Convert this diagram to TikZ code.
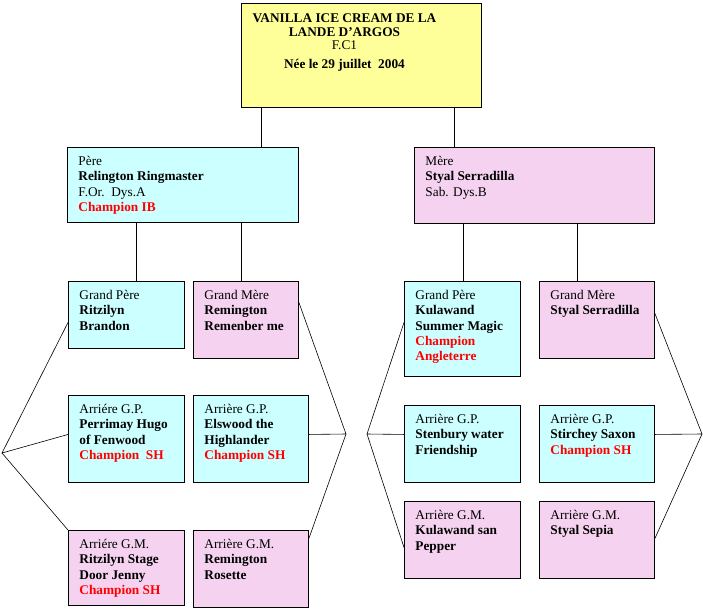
\documentclass[tikz,border=0pt]{standalone}
\usepackage{fontspec}
\setmainfont{Liberation Serif}
\definecolor{titlefill}{RGB}{255,255,153}
\definecolor{malefill}{RGB}{204,255,255}
\definecolor{femalefill}{RGB}{245,211,240}
\definecolor{champred}{RGB}{255,0,0}
\newcommand{\cellbox}[3]{\begin{minipage}[t][#2pt][t]{#1pt}\raggedright\leftskip=11pt\vspace*{7.3pt}\strut#3\end{minipage}}
\newcommand{\champion}[1]{\textcolor{champred}{\textbf{#1}}}

\begin{document}
\begin{tikzpicture}[
            x=1pt, y=-1pt,
            pedbox/.style={draw, line width=0.9pt, anchor=north west, inner sep=0pt, font=\fontsize{13.3}{15.3}\selectfont},
            titlenode/.style={pedbox, fill=titlefill},
            malenode/.style={pedbox, fill=malefill},
            femalenode/.style={pedbox, fill=femalefill},
            link/.style={line width=0.6pt}
        ]
            \useasboundingbox (0,0) rectangle (703,610);

            \node[titlenode] (vanilla) at (241,3) {\hspace*{10pt}\begin{minipage}[t][104pt][t]{186pt}\centering\vspace*{8pt}\strut\textbf{VANILLA ICE CREAM DE LA}\\[-1pt]\textbf{LANDE D'ARGOS}\\[-2pt]F.C1\\[3.7pt]\textbf{Née le 29 juillet~ 2004}\end{minipage}\hspace*{44pt}};

            \node[malenode] (pere) at (67,147) {\cellbox{231}{75}{Père\\\textbf{Relington Ringmaster}\\F.Or.~~Dys.A\\\champion{Champion IB}}};
            \node[femalenode] (mere) at (414,147) {\cellbox{240}{76}{Mère\\\textbf{Styal Serradilla}\\Sab. Dys.B}};

            \node[malenode] (gpp) at (68,281) {\cellbox{116}{67}{Grand Père\\\textbf{Ritzilyn}\\\textbf{Brandon}}};
            \node[femalenode] (gmp) at (193,281) {\cellbox{105}{77}{Grand Mère\\\textbf{Remington}\\\textbf{Remenber me}}};
            \node[malenode] (gpm) at (404,281) {\cellbox{116}{95}{Grand Père\\\textbf{Kulawand}\\\textbf{Summer Magic}\\\champion{Champion}\\\champion{Angleterre}}};
            \node[femalenode] (gmm) at (539,281) {\cellbox{115}{77}{Grand Mère\\\textbf{Styal Serradilla}}};

            \node[malenode] (agp1) at (68,395) {\cellbox{116}{87}{Arriére G.P.\\\textbf{Perrimay Hugo}\\\textbf{of Fenwood}\\\champion{Champion~ SH}}};
            \node[malenode] (agp2) at (193,395) {\cellbox{115}{87}{Arrière G.P.\\\textbf{Elswood the}\\\textbf{Highlander}\\\champion{Champion SH}}};
            \node[malenode] (agp3) at (404,405) {\cellbox{116}{77}{Arrière G.P.\\\textbf{Stenbury water}\\\textbf{Friendship}}};
            \node[malenode] (agp4) at (539,405) {\cellbox{115}{77}{Arrière G.P.\\\textbf{Stirchey Saxon}\\\champion{Champion SH}}};

            \node[femalenode] (agm1) at (68,530) {\cellbox{116}{75}{Arriére G.M.\\\textbf{Ritzilyn Stage}\\\textbf{Door Jenny}\\\champion{Champion SH}}};
            \node[femalenode] (agm2) at (193,530) {\cellbox{115}{77}{Arrière G.M.\\\textbf{Remington}\\\textbf{Rosette}}};
            \node[femalenode] (agm3) at (404,501) {\cellbox{116}{77}{Arrière G.M.\\\textbf{Kulawand san}\\\textbf{Pepper}}};
            \node[femalenode] (agm4) at (539,501) {\cellbox{115}{77}{Arrière G.M.\\\textbf{Styal Sepia}}};

            \coordinate (lv) at (2,453);
            \coordinate (lr) at (346,434);
            \coordinate (rl) at (367,434);
            \coordinate (rr) at (702,434);

            \draw[link] ([xshift=20pt]vanilla.south west) -- ([xshift=20pt]vanilla.south west |- pere.north);
            \draw[link] ([xshift=-28pt]vanilla.south east) -- ([xshift=-28pt]vanilla.south east |- mere.north);
            \draw[link] ([xshift=68pt]gpp.north west |- pere.south) -- ([xshift=68pt]gpp.north west);
            \draw[link] ([xshift=48pt]gmp.north west |- pere.south) -- ([xshift=48pt]gmp.north west);
            \draw[link] ([xshift=59pt]gpm.north west |- mere.south) -- ([xshift=59pt]gpm.north west);
            \draw[link] ([xshift=38pt]gmm.north west |- mere.south) -- ([xshift=38pt]gmm.north west);

            \draw[link] ([yshift=-7.5pt]gpp.west) -- (lv) -- ([yshift=4.5pt]agp1.west);
            \draw[link] (lv) -- (agm1.north west);
            \draw[link] ([yshift=17.5pt]gmp.east) -- (lr) -- ([yshift=4.5pt]agp2.east);
            \draw[link] (lr) -- ([yshift=30.5pt]agm2.east);
            \draw[link] ([yshift=6.5pt]gpm.west) -- (rl) -- ([yshift=9.5pt]agp3.west);
            \draw[link] (rl) -- ([yshift=-7.5pt]agm3.west);
            \draw[link] ([yshift=6.5pt]gmm.east) -- (rr) -- ([yshift=9.5pt]agp4.east);
            \draw[link] (rr) -- ([yshift=1.5pt]agm4.east);
        \end{tikzpicture}
\end{document}
